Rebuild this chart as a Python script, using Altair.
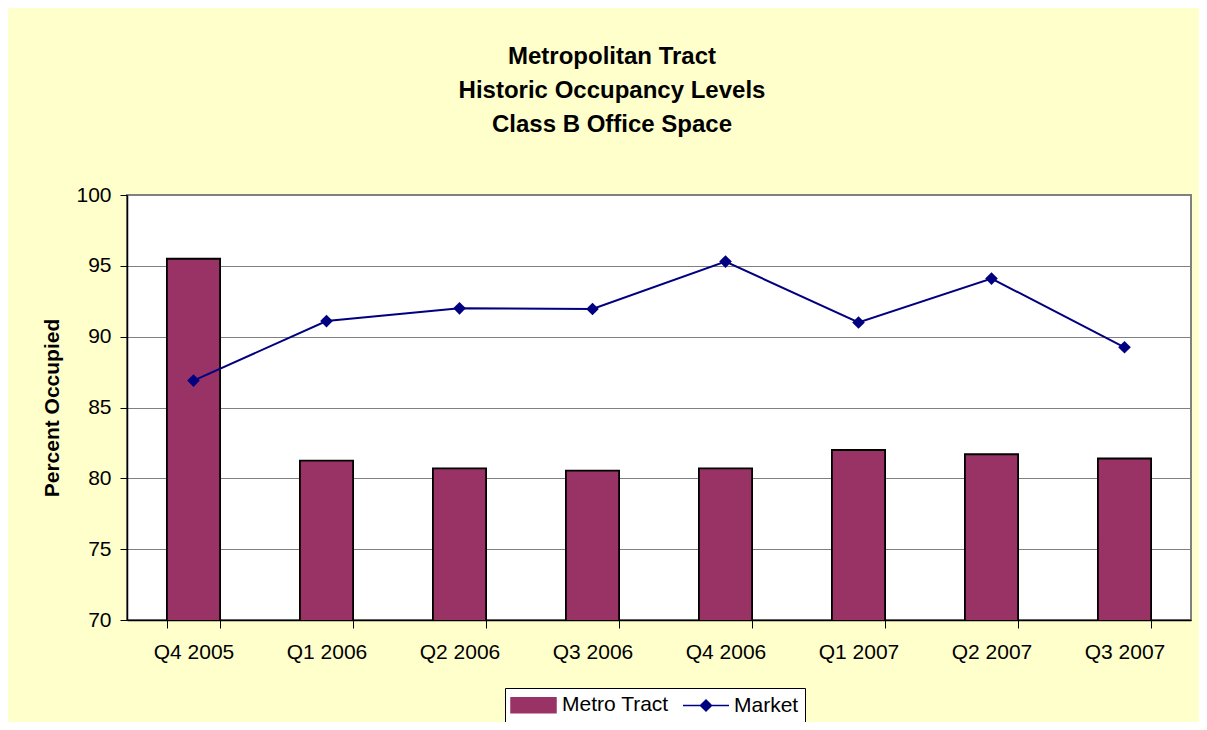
import altair as alt
import pandas as pd

quarters = ["Q4 2005", "Q1 2006", "Q2 2006", "Q3 2006",
            "Q4 2006", "Q1 2007", "Q2 2007", "Q3 2007"]
metro_tract = [95.5, 81.25, 80.7, 80.55, 80.7, 82.0, 81.7, 81.4]
market = [86.9, 91.1, 92.0, 91.95, 95.3, 91.0, 94.1, 89.25]
series_names = ["Metro Tract", "Market"]
series_colors = ["#993366", "#000080"]
y_ticks = [70, 75, 80, 85, 90, 95, 100]
title_lines = ["Metropolitan Tract", "Historic Occupancy Levels", "Class B Office Space"]

rows = []
for q, v in zip(quarters, metro_tract):
    rows.append({"quarter": q, "series": "Metro Tract", "value": v})
for q, v in zip(quarters, market):
    rows.append({"quarter": q, "series": "Market", "value": v})
df = pd.DataFrame(rows)

FONT = "Liberation Sans, Arial, sans-serif"

x_enc = alt.X(
    "quarter:N", sort=quarters,
    scale=alt.Scale(paddingInner=0.6, paddingOuter=0.3),
    axis=alt.Axis(title=None, labelAngle=0, labelFontSize=21, labelFont=FONT,
                  labelColor="black", labelPadding=13, tickSize=8, tickColor="black",
                  tickWidth=1, tickBand="extent", domainColor="black", domainWidth=1.5,
                  grid=False),
)
y_enc = alt.Y(
    "value:Q",
    scale=alt.Scale(domain=[70, 100], zero=False, nice=False),
    axis=alt.Axis(values=y_ticks, title="Percent Occupied", titleFontSize=21,
                  titleFont=FONT, titleFontWeight="bold", titleColor="black",
                  titlePadding=13, labelFontSize=21, labelFont=FONT, labelColor="black",
                  labelPadding=9, tickSize=7, tickColor="black", tickWidth=1,
                  domainColor="black", domainWidth=1.5, gridColor="#808080",
                  gridWidth=1),
)
color_scale = alt.Scale(domain=series_names, range=series_colors)

rect_path = "M-1.1,-0.75H3.4V0.75H-1.1Z"
mkt_path = "M-1.1,0H3.5M1.2,-0.55L1.75,0L1.2,0.55L0.65,0Z"

legend = alt.Legend(
    title=None, orient="none", legendX=378, legendY=493, direction="horizontal",
    symbolType={"expr": "datum.value === 'Market' ? '" + mkt_path + "' : '" + rect_path + "'"},
    symbolStrokeColor={"expr": "datum.value === 'Market' ? '#000080' : 'black'"},
    symbolStrokeWidth=1.5,
    symbolSize=400, labelFontSize=21, labelFont=FONT,
    labelColor="black", labelOffset=29, columnPadding=11, padding=6,
    fillColor="white", strokeColor="black", symbolOpacity=1,
)

base = alt.Chart(df)

bars = base.transform_filter(alt.datum.series == "Metro Tract").mark_bar(clip=True).encode(
    x=x_enc, y=y_enc,
    color=alt.Color("series:N", scale=color_scale, legend=legend),
)
outlines = base.transform_filter(alt.datum.series == "Metro Tract").mark_bar(
    filled=False, stroke="black", strokeWidth=1.8, clip=True
).encode(x=x_enc, y=y_enc)
line = base.transform_filter(alt.datum.series == "Market").mark_line(strokeWidth=2).encode(
    x=x_enc, y=y_enc,
    color=alt.Color("series:N", scale=color_scale, legend=None),
)
points = base.transform_filter(alt.datum.series == "Market").mark_point(
    shape="diamond", filled=True, size=160, opacity=1
).encode(
    x=x_enc, y=y_enc,
    color=alt.Color("series:N", scale=color_scale, legend=None),
)

chart = alt.layer(bars, outlines, line, points).properties(
    width=1064, height=425,
    autosize=alt.AutoSizeParams(type="none"),
    padding={"left": 119, "top": 187, "right": 8, "bottom": 102},
    background="#FFFFCC",
    title=alt.TitleParams(text=title_lines, fontSize=24, font=FONT, fontWeight="bold",
                          lineHeight=34, anchor="middle", dx=-47, offset=47,
                          color="black"),
).configure_view(stroke="#808080", strokeWidth=2, fill="white")

chart.save("out.html", embed_options={"renderer": "svg", "actions": False})
